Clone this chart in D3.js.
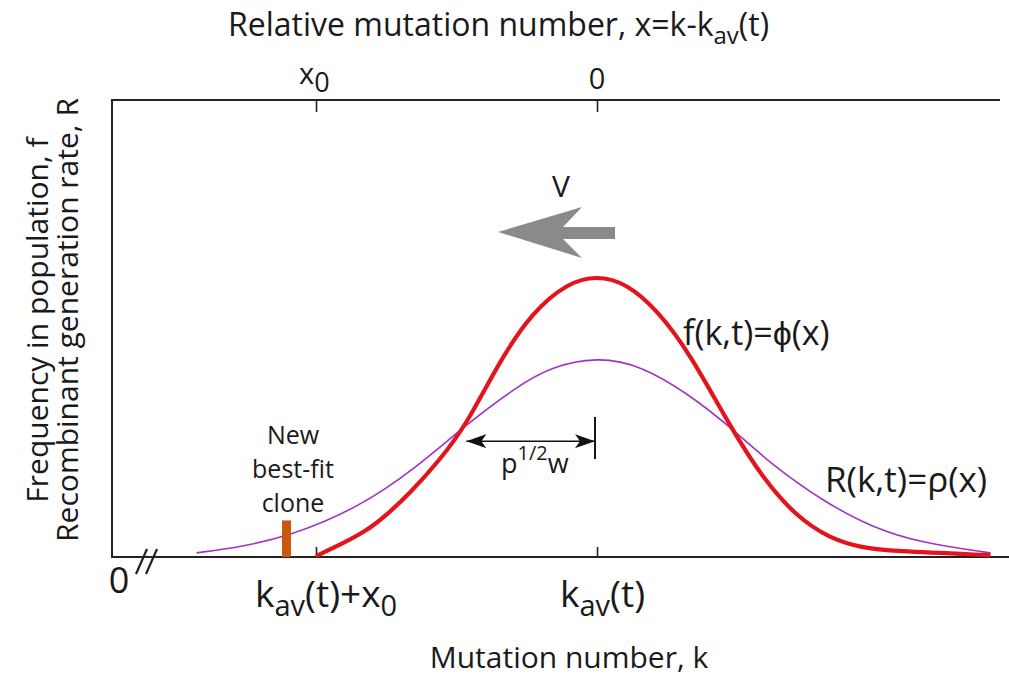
<!DOCTYPE html>
<html><head><meta charset="utf-8">
<script src="https://cdn.jsdelivr.net/npm/d3@7"></script>
<style>
html,body{margin:0;padding:0;background:#fff;}
svg text{font-family:"Open Sans","Liberation Sans",Arial,sans-serif;fill:#1a1a1a;}
</style></head>
<body><svg id="chart" width="1009" height="680"></svg>
<script>
// Relative mutation number x (x = 0 at k_av(t), x0 = -2), frequency f / rate R
const redX = [-2.0, -1.82, -1.64, -1.49, -1.33, -1.12, -0.93, -0.69, -0.46, -0.21, 0, 0.21, 0.43, 0.66, 0.95, 1.18, 1.42, 1.66, 1.89, 2.09, 2.80];
const redY = [0.002, 0.028, 0.057, 0.094, 0.140, 0.212, 0.289, 0.431, 0.536, 0.600, 0.616, 0.599, 0.540, 0.446, 0.284, 0.172, 0.088, 0.040, 0.020, 0.013, 0.004];
const purpleX = [-2.85, -2.54, -2.19, -1.69, -1.28, -0.93, -0.57, -0.33, 0, 0.31, 0.66, 0.95, 1.25, 1.61, 1.96, 2.32, 2.80];
const purpleY = [0.009, 0.022, 0.045, 0.109, 0.197, 0.290, 0.373, 0.416, 0.438, 0.420, 0.355, 0.284, 0.200, 0.122, 0.064, 0.030, 0.009];
const topTicks = [-2, 0];
const cloneX = -2.21;      // new best-fit clone position
const cloneH = 0.08;       // bar height
const widthArrowFrom = -0.93, widthArrowTo = 0, widthArrowY = 0.26;
const xDomain = [-3.452, 2.868];
const yDomain = [0, 1];

const svg = d3.select("#chart");
const L = 112, R = 1000, T = 100, B = 557;
const x = d3.scaleLinear().domain(xDomain).range([L, R]);
const y = d3.scaleLinear().domain(yDomain).range([B, T]);

// axes
const topAxis = d3.axisTop(x).tickValues(topTicks).tickSize(-12).tickFormat("");
const gTop = svg.append("g").attr("transform", `translate(0,${T})`).call(topAxis);
gTop.select(".domain").attr("stroke", "#222").attr("stroke-width", 2).attr("d", `M${L},0H${R}`);
gTop.selectAll(".tick line").attr("stroke", "#222").attr("stroke-width", 1.6);

const botAxis = d3.axisBottom(x).tickValues(topTicks).tickSize(-10).tickFormat("");
const gBot = svg.append("g").attr("transform", `translate(0,${B})`).call(botAxis);
gBot.select(".domain").attr("stroke", "#222").attr("stroke-width", 2).attr("d", `M${L},0H1009`);
gBot.selectAll(".tick line").attr("stroke", "#222").attr("stroke-width", 1.6);

svg.append("line").attr("x1", L).attr("x2", L).attr("y1", T - 1).attr("y2", B + 1)
  .attr("stroke", "#222").attr("stroke-width", 2);

// axis break "//" and 0
svg.append("text").attr("x", 119).attr("y", 593).attr("text-anchor", "middle").attr("font-size", 36).text("0");
[[136, 574, 147, 549], [146, 574, 157, 549]].forEach(d => {
  svg.append("line").attr("x1", d[0]).attr("y1", d[1]).attr("x2", d[2]).attr("y2", d[3])
    .attr("stroke", "#222").attr("stroke-width", 2.2);
});

// top tick labels
const tl = svg.append("g");
tl.append("text").attr("x", x(-2) - 17).attr("y", 84).attr("font-size", 29)
  .html('x<tspan dy="8" font-size="27">0</tspan>');
tl.append("text").attr("x", x(0)).attr("y", 89).attr("text-anchor", "middle").attr("font-size", 29).text("0");

// top title
svg.append("text").attr("x", 228).attr("y", 36).attr("font-size", 32)
  .html('Relative mutation number, x=k-k<tspan dy="8" font-size="24">av</tspan><tspan dy="-8">(t)</tspan>');

// bottom labels
svg.append("text").attr("x", 255).attr("y", 607).attr("font-size", 37)
  .html('k<tspan dy="9" font-size="29">av</tspan><tspan dy="-9">(t)+x</tspan><tspan dy="9" font-size="29">0</tspan>');
svg.append("text").attr("x", 560).attr("y", 607).attr("font-size", 37)
  .html('k<tspan dy="9" font-size="29">av</tspan><tspan dy="-9">(t)</tspan>');
svg.append("text").attr("x", 569).attr("y", 668).attr("text-anchor", "middle").attr("font-size", 30)
  .text("Mutation number, k");

// y label
const yl = svg.append("g").attr("transform", "translate(48,320) rotate(-90)");
yl.append("text").attr("x", 0).attr("y", 0).attr("text-anchor", "middle").attr("font-size", 30)
  .text("Frequency in population, f");
yl.append("text").attr("x", 0).attr("y", 30).attr("text-anchor", "middle").attr("font-size", 30)
  .text("Recombinant generation rate, R");

// curves
const line = d3.line().x(d => x(d[0])).y(d => y(d[1])).curve(d3.curveBasis);
svg.append("path").datum(purpleX.map((v, i) => [v, purpleY[i]])).attr("d", line)
  .attr("fill", "none").attr("stroke", "#a332c8").attr("stroke-width", 1.6);
svg.append("path").datum(redX.map((v, i) => [v, redY[i]])).attr("d", line)
  .attr("fill", "none").attr("stroke", "#e3141b").attr("stroke-width", 4.2);

// clone bar
svg.append("rect").attr("x", x(cloneX) - 4.5).attr("width", 9)
  .attr("y", y(cloneH)).attr("height", y(0) - y(cloneH)).attr("fill", "#c9580f");
["New", "best-fit", "clone"].forEach((d, i) => {
  svg.append("text").attr("text-anchor", "middle").attr("font-size", 25)
    .attr("x", 293).attr("y", [444, 478, 512][i]).text(d);
});

// width arrow
const defs = svg.append("defs");
defs.append("marker").attr("id", "ah").attr("viewBox", "0 0 20 14").attr("refX", 20).attr("refY", 7)
  .attr("markerWidth", 20).attr("markerHeight", 14).attr("markerUnits", "userSpaceOnUse").attr("orient", "auto-start-reverse")
  .append("path").attr("d", "M0,0 L20,7 L0,14 L5,7 Z").attr("fill", "#111");
const ay = y(widthArrowY) + 3;
svg.append("line").attr("x1", x(widthArrowFrom)).attr("x2", x(widthArrowTo) - 2).attr("y1", ay).attr("y2", ay)
  .attr("stroke", "#111").attr("stroke-width", 1.6)
  .attr("marker-start", "url(#ah)").attr("marker-end", "url(#ah)");
svg.append("line").attr("x1", x(widthArrowTo) - 2).attr("x2", x(widthArrowTo) - 2).attr("y1", 417).attr("y2", 459)
  .attr("stroke", "#111").attr("stroke-width", 2);
svg.append("text").attr("x", 501).attr("y", 473).attr("font-size", 27)
  .html('p<tspan dy="-13" font-size="20">1/2</tspan><tspan dy="13">w</tspan>');

// velocity arrow
svg.append("text").attr("x", 561).attr("y", 197).attr("text-anchor", "middle").attr("font-size", 30).text("V");
svg.append("path").attr("d", "M498,232 L582,207 L563,227 L615,227 L615,239 L563,239 L582,258 Z")
  .attr("fill", "#8a8a8a");

// curve labels
svg.append("text").attr("x", 683).attr("y", 345).attr("font-size", 34).text("f(k,t)=\u03D5(x)");
svg.append("text").attr("x", 825).attr("y", 492).attr("font-size", 35).text("R(k,t)=\u03C1(x)");
</script></body></html>
